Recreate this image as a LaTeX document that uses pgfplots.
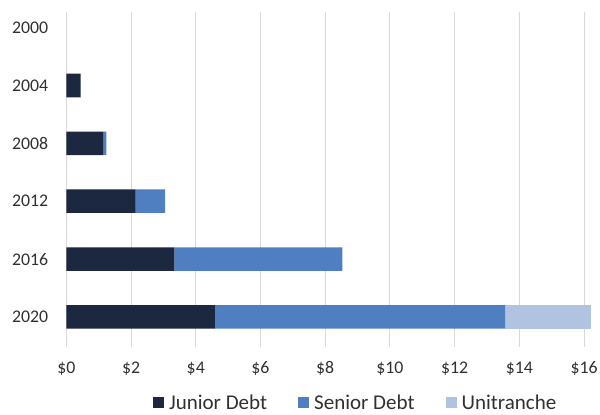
\documentclass[border=0pt]{standalone}
\usepackage{pgfplots}
\pgfplotsset{compat=1.18}
\usepackage{fontspec}
\setmainfont{Carlito}
\definecolor{junior}{HTML}{1B2840}
\definecolor{senior}{HTML}{4F7FC0}
\definecolor{unitr}{HTML}{B0C4E2}
\definecolor{gridgray}{HTML}{D9D9D9}
\definecolor{txt}{HTML}{303030}
\begin{document}
\begin{tikzpicture}[x=1pt,y=1pt]
\begin{axis}[
    at={(66.3pt,68pt)}, anchor=south west,
    scale only axis, width=525.9pt, height=335pt,
    xbar stacked, bar width=0.407,
    xmin=0, xmax=16.25, ymin=-0.27, ymax=5.52, y dir=reverse,
    ytick={0,1,2,3,4,5},
    yticklabels={2000,2004,2008,2012,2016,2020},
    xtick={0,2,4,6,8,10,12,14,16},
    xticklabels={\$0,\$2,\$4,\$6,\$8,\$10,\$12,\$14,\$16},
    /pgf/number format/assume math mode=true,
    axis line style={draw=none},
    major tick length=0pt,
    xmajorgrids, grid style={color=gridgray, line width=0.9pt},
    ticklabel style={font=\fontsize{17.8}{20}\selectfont, text=txt},
    yticklabel style={anchor=east, inner sep=0pt, xshift=-18pt},
    xticklabel style={anchor=base, inner sep=0pt, yshift=-26.5pt},
    legend columns=-1,
    legend style={at={(axis description cs:0.5484,-0.166)}, anchor=center,
        draw=none, fill=none, inner sep=0pt,
        font=\fontsize{21}{24}\selectfont, text=txt,
        nodes={inner sep=0pt, inner xsep=0pt},
        /tikz/every odd column/.append style={column sep=5pt},
        /tikz/every even column/.append style={column sep=31pt}},
    legend image code/.code={\fill[#1] (0pt,-5.5pt) rectangle (11pt,5.5pt);},
]
\addplot[fill=junior, draw=none] coordinates {
(0,0) (0.44,1) (1.14,2) (2.14,3) (3.34,4) (4.59,5)};
\addplot[fill=senior, draw=none] coordinates {
(0,0) (0,1) (0.10,2) (0.91,3) (5.19,4) (8.97,5)};
\addplot[fill=unitr, draw=none] coordinates {
(0,0) (0,1) (0,2) (0,3) (0,4) (2.64,5)};
\legend{Junior Debt, Senior Debt, Unitranche}
\end{axis}
\pgfresetboundingbox
\path[use as bounding box] (0,0) rectangle (600,415);
\end{tikzpicture}
\end{document}
